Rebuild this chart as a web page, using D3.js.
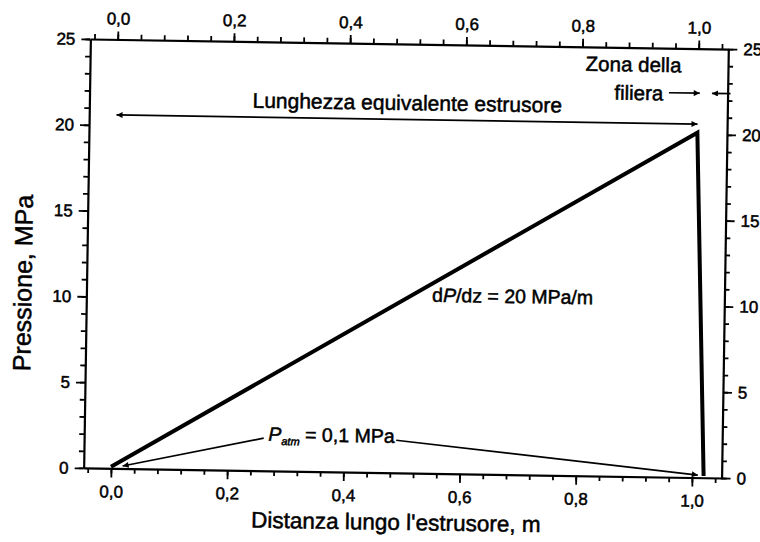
<!DOCTYPE html>
<html>
<head>
<meta charset="utf-8">
<script src="https://cdn.jsdelivr.net/npm/d3@7"></script>
<style>
  body { margin: 0; background: #fff; }
  svg { display: block; font-family: "Liberation Sans", Arial, sans-serif; }
  svg text { fill: #000; stroke: #000; stroke-width: 0.5; }
  .tick text { font-size: 17px; }
  .domain { stroke: #000; stroke-width: 2.2; }
  .tick line { stroke: #000; stroke-width: 1.8; }
</style>
</head>
<body>
<svg id="chart" width="760" height="542"></svg>
<script>
// ## DATA ##
const distanza = [0, 1.0, 1.02];          // m
const pressione = [0.1, 20.1, 0.1];       // MPa
const xTicks = [0, 0.2, 0.4, 0.6, 0.8, 1.0];
const yTicks = [0, 5, 10, 15, 20, 25];
const xTitle = "Distanza lungo l'estrusore, m";
const yTitle = "Pressione, MPa";

// annotation arrows, in data units: [x1, y1, x2, y2]
const arrows = [
  [0.0, 20.6, 1.0, 20.6],
  [0.95, 22.4, 1.003, 22.4],
  [1.056, 22.4, 1.024, 22.4],
  [0.262, 1.9, 0.02, 0.15],
  [0.49, 1.9, 1.01, 0.15]
];

// ## LAYOUT ##
const svg = d3.select("#chart");
const plotLeft = 87, plotRight = 725, plotTop = 44, plotBottom = 473;

const x = d3.scaleLinear().domain([-0.047, 1.051]).range([plotLeft, plotRight]);
const y = d3.scaleLinear().domain([0, 25]).range([plotBottom, plotTop]);

const fmt = d => d3.format(".1f")(d).replace(".", ",");

// the scan is slightly rotated
const g = svg.append("g").attr("transform", "rotate(0.9 406 258)");

// arrow head
svg.append("defs").append("marker")
    .attr("id", "head")
    .attr("viewBox", "0 0 10 10")
    .attr("refX", 10).attr("refY", 5)
    .attr("markerWidth", 13).attr("markerHeight", 6)
    .attr("markerUnits", "userSpaceOnUse")
    .attr("orient", "auto-start-reverse")
  .append("path")
    .attr("d", "M0,0L10,5L0,10z")
    .attr("fill", "#000");

// minor ticks
const xMinor = d3.range(-1, 27).map(i => i * 0.04);
const yMinor = d3.range(0, 26);

g.append("g").attr("transform", `translate(0,${plotBottom})`)
  .call(d3.axisBottom(x).tickValues(xMinor).tickSize(5).tickFormat(""))
  .call(a => a.select(".domain").remove());
g.append("g").attr("transform", `translate(0,${plotTop})`)
  .call(d3.axisTop(x).tickValues(xMinor).tickSize(5).tickFormat(""))
  .call(a => a.select(".domain").remove());
g.append("g").attr("transform", `translate(${plotLeft},0)`)
  .call(d3.axisLeft(y).tickValues(yMinor).tickSize(5).tickFormat(""))
  .call(a => a.select(".domain").remove());
g.append("g").attr("transform", `translate(${plotRight},0)`)
  .call(d3.axisRight(y).tickValues(yMinor).tickSize(5).tickFormat(""))
  .call(a => a.select(".domain").remove());

// major axes
g.append("g").attr("transform", `translate(0,${plotBottom})`)
  .call(d3.axisBottom(x).tickValues(xTicks).tickSize(9).tickSizeOuter(0).tickPadding(8).tickFormat(fmt));
g.append("g").attr("transform", `translate(0,${plotTop})`)
  .call(d3.axisTop(x).tickValues(xTicks).tickSize(8).tickSizeOuter(0).tickPadding(7).tickFormat(fmt));
g.append("g").attr("transform", `translate(${plotLeft},0)`)
  .call(d3.axisLeft(y).tickValues(yTicks).tickSize(9).tickSizeOuter(0).tickPadding(6));
g.append("g").attr("transform", `translate(${plotRight},0)`)
  .call(d3.axisRight(y).tickValues(yTicks).tickSize(9).tickSizeOuter(0).tickPadding(6));

g.selectAll(".tick text").attr("font-family", null).attr("font-size", null);

// pressure profile
const pts = distanza.map((d, i) => [d, pressione[i]]);
g.append("path")
    .datum(pts)
    .attr("fill", "none")
    .attr("stroke", "#000")
    .attr("stroke-width", 4)
    .attr("stroke-linejoin", "miter")
    .attr("d", d3.line().x(d => x(d[0])).y(d => y(d[1])));

// arrows
g.selectAll(".arrow")
  .data(arrows)
  .join("line")
    .attr("class", "arrow")
    .attr("x1", d => x(d[0])).attr("y1", d => y(d[1]))
    .attr("x2", d => x(d[2])).attr("y2", d => y(d[3]))
    .attr("stroke", "#000")
    .attr("stroke-width", 1.7)
    .attr("marker-end", "url(#head)")
    .attr("marker-start", (d, i) => i === 0 ? "url(#head)" : null);

// labels
const label = (tx, ty, size, anchor) => g.append("text")
    .attr("x", x(tx)).attr("y", y(ty))
    .attr("font-size", size)
    .attr("text-anchor", anchor || "start");

label(0.5, 21.15, 21, "middle").text("Lunghezza equivalente estrusore");
label(0.806, 23.6, 20.5).text("Zona della");
label(0.856, 21.95, 20.5).text("filiera");

const dp = label(0.548, 10.0, 19.5);
dp.append("tspan").text("d");
dp.append("tspan").attr("font-style", "italic").text("P");
dp.append("tspan").text("/dz = 20 MPa/m");

const pa = label(0.27, 1.75, 19.5);
pa.append("tspan").attr("font-style", "italic").text("P");
pa.append("tspan").attr("font-style", "italic").attr("font-size", 11).attr("dy", 4).text("atm");
pa.append("tspan").attr("dy", -4).text(" = 0,1 MPa");

// axis titles
g.append("text")
    .attr("x", (plotLeft + plotRight) / 2 - 6).attr("y", 530)
    .attr("text-anchor", "middle")
    .attr("font-size", 22.5)
    .text(xTitle);

g.append("text")
    .attr("transform", `translate(32,289) rotate(-90)`)
    .attr("text-anchor", "middle")
    .attr("font-size", 25)
    .text(yTitle);
</script>
</body>
</html>
